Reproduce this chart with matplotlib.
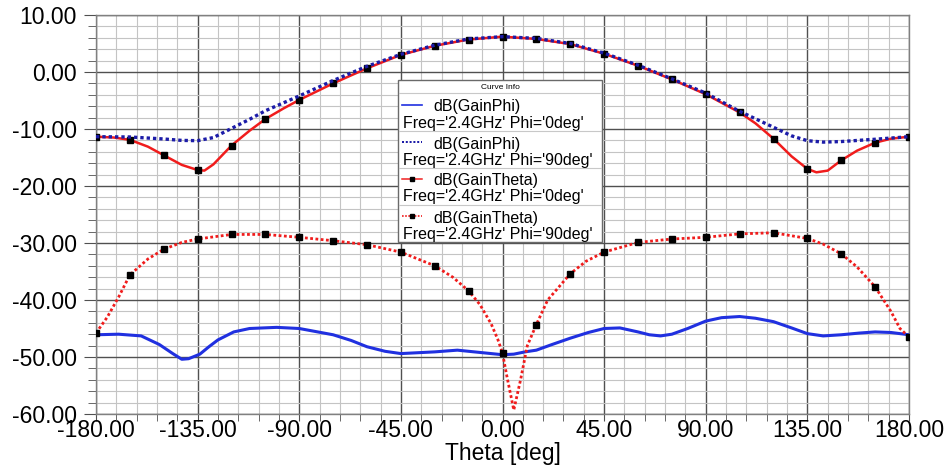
import matplotlib.pyplot as plt
from matplotlib.patches import Rectangle
from matplotlib.lines import Line2D
from matplotlib.ticker import MultipleLocator, FormatStrFormatter

plt.rcParams['font.family'] = ['Liberation Sans', 'DejaVu Sans']
plt.rcParams['axes.unicode_minus'] = False

# === Datos ===
# dB(GainPhi) Phi='0deg'
theta_phi0 = [-180, -170, -160, -152, -146, -142, -139, -134, -130, -126, -119, -112, -100, -90,
              -75, -67, -60, -52, -45, -30, -20, -15, -5, 0, 5, 10, 15, 22, 30, 38, 45, 52, 60,
              65, 70, 75, 82, 90, 97, 105, 112, 120, 128, 135, 142, 150, 158, 165, 172, 180]
gphi_phi0 = [-46.1, -46.0, -46.3, -47.8, -49.4, -50.4, -50.3, -49.5, -48.2, -47.0, -45.6, -45.0, -44.8, -45.0,
             -46.1, -47.1, -48.2, -49.0, -49.4, -49.1, -48.8, -49.0, -49.4, -49.6, -49.5, -49.1, -48.8,
             -47.8, -46.7, -45.7, -45.0, -44.9, -45.6, -46.1, -46.3, -46.0, -45.0, -43.7, -43.1, -42.9,
             -43.2, -43.8, -44.9, -45.9, -46.3, -46.1, -45.8, -45.6, -45.7, -46.1]

# dB(GainPhi) Phi='90deg'
theta_phi90 = [-180, -165, -150, -142, -135, -128, -120, -112, -105, -90, -75, -60, -45, -30,
               -15, 0, 15, 30, 45, 60, 75, 90, 105, 112, 120, 128, 135, 142, 150, 165, 180]
gphi_phi90 = [-11.35, -11.4, -11.75, -12.0, -12.05, -11.5, -9.9, -8.3, -6.8, -4.2, -1.5, 1.0, 3.1, 4.7,
              5.8, 6.2, 5.9, 5.0, 3.3, 1.2, -1.2, -3.7, -6.9, -8.2, -9.7, -11.2, -12.05, -12.3, -12.2,
              -11.8, -11.35]

# dB(GainTheta) Phi='0deg'
theta_th0 = [-180, -172, -165, -157, -150, -142, -135, -132, -128, -120, -112, -105, -97, -90,
             -75, -60, -45, -30, -15, 0, 15, 30, 45, 60, 75, 90, 105, 112, 120, 128, 135, 139,
             144, 150, 157, 165, 172, 180]
gth_phi0 = [-11.35, -11.5, -11.9, -13.1, -14.6, -16.3, -17.2, -17.3, -16.2, -12.9, -10.3, -8.25, -6.4, -4.9,
            -2.0, 0.65, 3.0, 4.6, 5.7, 6.2, 5.8, 4.9, 3.2, 1.1, -1.3, -3.9, -7.1, -9.0, -11.7, -14.8, -17.0,
            -17.6, -17.3, -15.5, -13.8, -12.4, -11.7, -11.35]

# dB(GainTheta) Phi='90deg'
theta_th90 = [-180, -175, -170, -165, -157, -150, -142, -135, -120, -105, -90, -75, -60, -45, -30,
              -22, -15, -10, -5, -2, 0, 2, 5, 8, 11, 15, 20, 30, 37, 45, 60, 75, 90, 105, 120,
              135, 142, 150, 157, 165, 172, 176, 180]
gth_phi90 = [-45.8, -43.0, -39.5, -35.6, -32.8, -31.1, -29.9, -29.3, -28.5, -28.5, -29.0, -29.6, -30.3,
             -31.6, -34.0, -36.0, -38.4, -40.8, -44.2, -47.0, -49.3, -53.5, -59.3, -54.0, -48.0, -44.3,
             -40.0, -35.4, -33.2, -31.6, -29.9, -29.3, -29.0, -28.4, -28.2, -29.2, -30.2, -31.9, -34.2,
             -37.7, -42.0, -45.0, -46.5]

x_ticks = [-180, -135, -90, -45, 0, 45, 90, 135, 180]

leyenda = [("dB(GainPhi)", "Freq='2.4GHz' Phi='0deg'"),
           ("dB(GainPhi)", "Freq='2.4GHz' Phi='90deg'"),
           ("dB(GainTheta)", "Freq='2.4GHz' Phi='0deg'"),
           ("dB(GainTheta)", "Freq='2.4GHz' Phi='90deg'")]

# === Estilos ===
c_blue = '#2030e0'
c_navy = '#1c1ca8'
c_red = '#f01c1c'
estilos = [dict(color=c_blue, ls='-', lw=2.0, marker=None),
           dict(color=c_navy, ls=(0, (1, 0.9)), lw=2.4, marker=None),
           dict(color=c_red, ls='-', lw=1.8, marker='s'),
           dict(color=c_red, ls=(0, (1, 0.9)), lw=2.0, marker='s')]


def cada15(theta):
    return [i for i, t in enumerate(theta) if t % 15 == 0]


W, H = 948, 472
fig = plt.figure(figsize=(W / 100, H / 100), dpi=100)
ax = fig.add_axes([96 / W, 1 - 414 / H, (909 - 96) / W, (414 - 15) / H])

ax.plot(theta_phi0, gphi_phi0, color=c_blue, lw=2.2, zorder=3)
ax.plot(theta_th0, gth_phi0, color=c_red, lw=1.8, marker='s', ms=4, mfc='black', mec='black',
        markevery=cada15(theta_th0), zorder=4)
ax.plot(theta_th90, gth_phi90, color=c_red, lw=2.0, ls=(0, (1, 0.9)), marker='s', ms=4,
        mfc='black', mec='black', markevery=cada15(theta_th90), zorder=4)
ax.plot(theta_phi90, gphi_phi90, color=c_navy, lw=2.4, ls=(0, (1, 0.9)), zorder=5)

ax.set_xlim(-180, 180)
ax.set_ylim(-60, 10)
ax.set_xticks(x_ticks)
ax.xaxis.set_minor_locator(MultipleLocator(9))
ax.yaxis.set_major_locator(MultipleLocator(10))
ax.yaxis.set_minor_locator(MultipleLocator(2))
ax.xaxis.set_major_formatter(FormatStrFormatter('%.2f'))
ax.yaxis.set_major_formatter(FormatStrFormatter('%.2f'))

ax.grid(which='minor', color='#c4c4c4', lw=0.8)
ax.grid(which='major', color='#505050', lw=1.0)
ax.set_axisbelow(True)
for s in ax.spines.values():
    s.set_color('#808080')
    s.set_linewidth(1.0)

ax.tick_params(axis='both', which='both', colors='#505050', labelcolor='black', labelsize=16.5)
ax.tick_params(axis='y', which='major', length=9, pad=5)
ax.tick_params(axis='y', which='minor', length=6)
ax.tick_params(axis='x', which='major', length=5, pad=-1.5)
ax.tick_params(axis='x', which='minor', length=5)
ax.set_xlabel("Theta [deg]", fontsize=16.5, labelpad=0)


# === Leyenda "Curve Info" (dibujada a mano) ===
def fx(x):
    return x / W


def fy(y):
    return 1 - y / H


fig.add_artist(Rectangle((fx(398), fy(242)), (602 - 398) / W, (242 - 80) / H,
                         transform=fig.transFigure, facecolor='white', edgecolor='#6a6a6a',
                         lw=1.0, zorder=5))
for ysep in [93, 131, 168, 205]:
    fig.add_artist(Line2D([fx(399), fx(601)], [fy(ysep), fy(ysep)], color='#c8c8c8', lw=0.8, zorder=6))
fig.text(fx(500), fy(87), "Curve Info", fontsize=6, ha='center', va='center', zorder=7)

for k, ((t1, t2), est) in enumerate(zip(leyenda, estilos)):
    yr = 105 + 37 * k
    fig.add_artist(Line2D([fx(402), fx(422)], [fy(yr), fy(yr)], color=est['color'], ls=est['ls'],
                          lw=est['lw'] * 0.6, zorder=7))
    if est['marker']:
        fig.add_artist(Line2D([fx(412)], [fy(yr)], marker='s', ms=3.5, mfc='black', mec='black',
                              ls='none', zorder=8))
    fig.text(fx(433), fy(yr + 2), t1, fontsize=11.5, ha='left', va='center', zorder=7)
    fig.text(fx(403), fy(yr + 18), t2, fontsize=11.5, ha='left', va='center', zorder=7)

fig.savefig("out.png", dpi=100)
